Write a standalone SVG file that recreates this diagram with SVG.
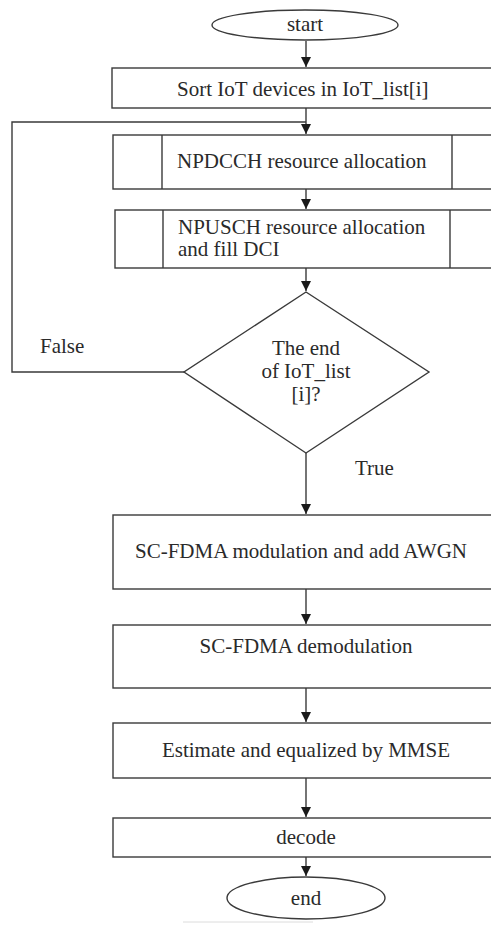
<svg xmlns="http://www.w3.org/2000/svg" width="491" height="928" viewBox="0 0 491 928">
  <style>
    .shape { fill: #ffffff; stroke: #3a3a3a; stroke-width: 1.4; }
    .edge { fill: none; stroke: #3a3a3a; stroke-width: 1.4; }
    .label { font-family: 'Liberation Serif', 'DejaVu Serif', serif; font-size: 21px; fill: #2a2a2a; }
    .mid { text-anchor: middle; }
  </style>
  <defs>
    <marker id="arrow" viewBox="0 0 10 10" refX="10" refY="5" markerWidth="10" markerHeight="10" markerUnits="userSpaceOnUse" orient="auto">
      <path d="M0,0 L10,5 L0,10 z" fill="#1a1a1a"/>
    </marker>
  </defs>
  <rect width="491" height="928" fill="#ffffff"/>

  <g id="connectors">
    <line class="edge" x1="306" y1="41" x2="306" y2="67" marker-end="url(#arrow)"/>
    <line class="edge" x1="306" y1="108" x2="306" y2="134" marker-end="url(#arrow)"/>
    <line class="edge" x1="306" y1="189" x2="306" y2="209" marker-end="url(#arrow)"/>
    <line class="edge" x1="306" y1="268" x2="306" y2="291" marker-end="url(#arrow)"/>
    <polyline class="edge" points="184,372 12,372 12,122 306,122"/>
    <line class="edge" x1="306" y1="453" x2="306" y2="514" marker-end="url(#arrow)"/>
    <line class="edge" x1="306" y1="589" x2="306" y2="624" marker-end="url(#arrow)"/>
    <line class="edge" x1="306" y1="688" x2="306" y2="722" marker-end="url(#arrow)"/>
    <line class="edge" x1="306" y1="778" x2="306" y2="817" marker-end="url(#arrow)"/>
    <line class="edge" x1="306" y1="857" x2="306" y2="876" marker-end="url(#arrow)"/>
    <text class="label" x="40" y="353">False</text>
    <text class="label" x="355" y="475">True</text>
  </g>

  <g id="start">
    <ellipse class="shape" cx="305" cy="25" rx="93" ry="15"/>
    <text class="label mid" x="305" y="31">start</text>
  </g>

  <g id="sort">
    <rect class="shape" x="112" y="68" width="385" height="40"/>
    <text class="label" x="177" y="96">Sort IoT devices in IoT_list[i]</text>
  </g>

  <g id="npdcch">
    <rect class="shape" x="113" y="135" width="384" height="54"/>
    <line class="edge" x1="162" y1="135" x2="162" y2="189"/>
    <line class="edge" x1="452" y1="135" x2="452" y2="189"/>
    <text class="label" x="177" y="168">NPDCCH resource allocation</text>
  </g>

  <g id="npusch">
    <rect class="shape" x="115" y="210" width="382" height="58"/>
    <line class="edge" x1="163" y1="210" x2="163" y2="268"/>
    <line class="edge" x1="450" y1="210" x2="450" y2="268"/>
    <text class="label" x="178" y="234">NPUSCH resource allocation</text>
    <text class="label" x="178" y="256">and fill DCI</text>
  </g>

  <g id="decision">
    <polygon class="shape" points="306,292 429,372 306,453 184,372"/>
    <text class="label mid" x="306" y="355">The end</text>
    <text class="label mid" x="306" y="378">of IoT_list</text>
    <text class="label mid" x="306" y="401">[i]?</text>
  </g>

  <g id="modulation">
    <rect class="shape" x="113" y="515" width="384" height="74"/>
    <text class="label" x="135" y="558">SC-FDMA modulation and add AWGN</text>
  </g>

  <g id="demodulation">
    <rect class="shape" x="113" y="625" width="384" height="63"/>
    <text class="label mid" x="306" y="653">SC-FDMA demodulation</text>
  </g>

  <g id="equalize">
    <rect class="shape" x="113" y="723" width="384" height="55"/>
    <text class="label mid" x="306" y="757">Estimate and equalized by MMSE</text>
  </g>

  <g id="decode">
    <rect class="shape" x="113" y="818" width="384" height="39"/>
    <text class="label mid" x="306" y="844">decode</text>
  </g>

  <g id="end">
    <ellipse class="shape" cx="306" cy="898" rx="79" ry="21"/>
    <text class="label mid" x="306" y="905">end</text>
  </g>

  <line x1="183" y1="922" x2="313" y2="922" stroke="#dcdcdc" stroke-width="1"/>
</svg>
